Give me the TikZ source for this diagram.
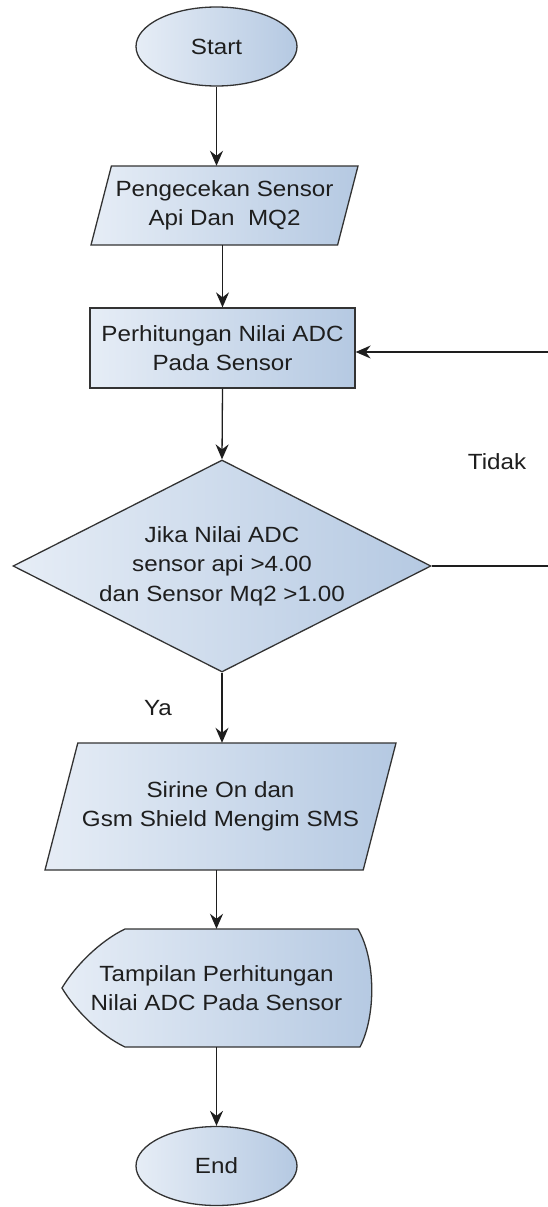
\documentclass[tikz,border=0pt]{standalone}
\usepackage{fontspec}
\setmainfont{Liberation Sans}[FakeStretch=1.1]
\usetikzlibrary{shapes.geometric,arrows.meta}
\definecolor{edge}{HTML}{333333}
\definecolor{ink}{HTML}{1E1E1E}
\definecolor{fillL}{HTML}{E6EDF6}
\definecolor{fillR}{HTML}{B5C9E2}
\begin{document}
\begin{tikzpicture}[x=1pt,y=-1pt,
  txt/.style={text=ink, font=\fontsize{22}{29.5}\selectfont, align=center},
  shp/.style={txt, draw=edge, line width=1.3pt, left color=fillL, right color=fillR, inner sep=0pt},
  skin/.style={draw=edge, line width=1.3pt, left color=fillL, right color=fillR},
  term/.style={shp, ellipse, minimum width=161pt, minimum height=79pt},
  proc/.style={shp, rectangle},
  dec/.style={shp, diamond, aspect=1.97},
  holder/.style={txt, inner sep=0pt},
  lbl/.style={txt, inner sep=0pt},
  conn/.style={draw=ink, line width=1.3pt, -{Stealth[length=15pt,width=13pt,inset=5pt]}}
]
\useasboundingbox (0,0) rectangle (548,1207);
\fill[white] (0,0) rectangle (548,1207);

% parallelogram 1 outline
\path[skin] (111.4,166) -- (358,166) -- (337.6,245) -- (91,245) -- cycle;
% parallelogram 2 outline
\path[skin] (77.8,743) -- (396,743) -- (363.2,870) -- (45,870) -- cycle;
% display outline
\path[skin] (125,929) -- (358,929) .. controls (376,960) and (376,1016) .. (360,1047)
  -- (125,1047) .. controls (100,1035) and (75,1010) .. (62,988)
  .. controls (75,966) and (100,941) .. (125,929) -- cycle;

\node[term] (start) at (216.5,46.5) {Start};
\node[holder, minimum width=246.6pt, minimum height=79pt] (p1) at (224.5,205.5) {Pengecekan Sensor\\Api Dan\ \ MQ2};
\node[proc, minimum width=265pt, minimum height=80pt] (r) at (222.5,348) {Perhitungan Nilai ADC\\Pada Sensor};
\node[dec, minimum width=418pt, minimum height=212pt] (d) at (222,566) {Jika Nilai ADC\\sensor api >4.00\\dan Sensor Mq2 >1.00};
\node[holder, minimum width=318.2pt, minimum height=127pt] (p2) at (220.5,806.5) {Sirine On dan\\Gsm Shield Mengim SMS};
\node[holder, minimum width=246pt, minimum height=118pt] (disp) at (216.5,988) {Tampilan Perhitungan\\Nilai ADC Pada Sensor};
\node[term] (end) at (216.5,1166) {End};

\node[lbl] (tidak) at (497,462) {Tidak};
\node[lbl] (ya) at (158,708) {Ya};

\coordinate (fb1) at (553,566);
\coordinate (fb2) at (553,352);

\draw[conn] (start) -- (p1.north -| start);
\draw[conn] (p1.south -| r.north) -- (r.north);
\draw[conn] (r.south) -- (d.north);
\draw[conn] (d.south) -- (p2.north -| d.south);
\draw[conn] (p2.south -| disp.north) -- (disp.north);
\draw[conn] (disp.south) -- (end.north);
\draw[conn] (d.east) -- (d.east -| fb1) -- (fb2) -- (fb2 -| r.east);
\end{tikzpicture}
\end{document}
